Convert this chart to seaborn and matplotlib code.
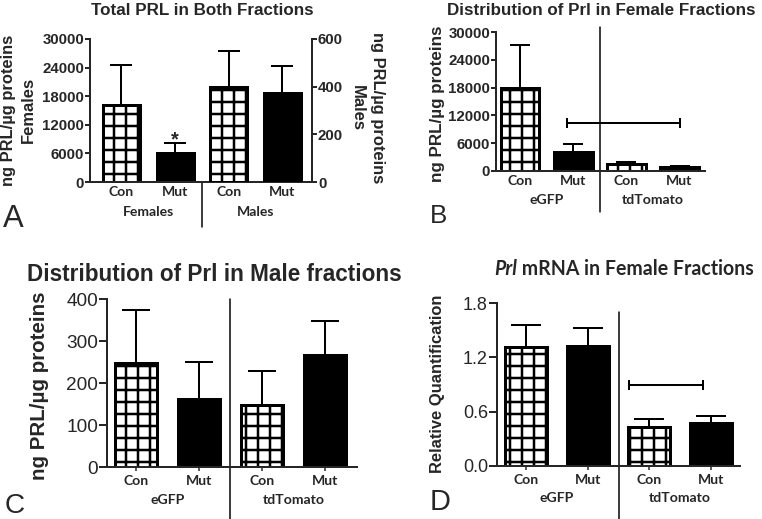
import numpy as np
import pandas as pd
import matplotlib
matplotlib.use("Agg")
import matplotlib.pyplot as plt
import seaborn as sns

# ---------------- data ----------------
# Panel A (Total PRL in both fractions)
a_fem_cats = ["F-Con", "F-Mut"]
a_fem_geno = ["Con", "Mut"]
a_fem_mean = [16100, 6100]
a_fem_err = [8400, 2100]
a_male_cats = ["M-Con", "M-Mut"]
a_male_geno = ["Con", "Mut"]
a_male_mean = [397, 375]
a_male_err = [151, 113]
a_order = ["F-Con", "F-Mut", "M-Con", "M-Mut"]
a_xticklabels = ["Con", "Mut", "Con", "Mut"]
a_groups = ["Females", "Males"]
a_left_ticks = [0, 6000, 12000, 18000, 24000, 30000]
a_right_ticks = [0, 200, 400, 600]

# Panel B (Distribution of Prl in female fractions)
b_cats = ["eGFP-Con", "eGFP-Mut", "tdT-Con", "tdT-Mut"]
b_geno = ["Con", "Mut", "Con", "Mut"]
b_mean = [17900, 4200, 1500, 950]
b_err = [9300, 1600, 500, 200]
b_ticks = [0, 6000, 12000, 18000, 24000, 30000]

# Panel C (Distribution of Prl in male fractions)
c_cats = ["eGFP-Con", "eGFP-Mut", "tdT-Con", "tdT-Mut"]
c_geno = ["Con", "Mut", "Con", "Mut"]
c_mean = [248, 162, 148, 266]
c_err = [127, 88, 80, 81]
c_ticks = [0, 100, 200, 300, 400]

# Panel D (Prl mRNA in female fractions)
d_cats = ["eGFP-Con", "eGFP-Mut", "tdT-Con", "tdT-Mut"]
d_geno = ["Con", "Mut", "Con", "Mut"]
d_mean = [1.315, 1.32, 0.435, 0.472]
d_err = [0.237, 0.203, 0.082, 0.081]
d_ticks = [0.0, 0.6, 1.2, 1.8]

frac_xticklabels = ["Con", "Mut", "Con", "Mut"]
frac_groups = ["eGFP", "tdTomato"]

# ---------------- style ----------------
sns.set_style("ticks")
plt.rcParams["font.family"] = ["Liberation Sans", "DejaVu Sans"]
plt.rcParams["hatch.linewidth"] = 2.5
plt.rcParams["hatch.color"] = "black"

W, H = 762, 519
fig = plt.figure(figsize=(W / 72, H / 72), dpi=72)
CAL = ["Lato", "DejaVu Sans"]
XFS = 14


def add_ax(l, r, t, b):
    return fig.add_axes([l / W, 1 - b / H, (r - l) / W, (b - t) / H])


def fx(x):
    return x / W


def fy(y):
    return 1 - y / H


def draw_bars(ax, cats, genos, means, errs, order, width, capsize):
    df = pd.DataFrame({"cat": cats, "geno": genos, "val": means})
    n0 = len(ax.patches)
    sns.barplot(data=df, x="cat", y="val", hue="geno", order=order,
                hue_order=["Con", "Mut"],
                palette={"Con": "white", "Mut": "black"}, dodge=False,
                width=width, edgecolor="black", linewidth=3, saturation=1,
                legend=False, errorbar=None, ax=ax)
    for p in ax.patches[n0:]:
        if p.get_facecolor()[0] > 0.5:
            p.set_hatch("+")
    pos = [order.index(c) for c in cats]
    ax.errorbar(pos, means, yerr=[np.zeros(len(errs)), errs], fmt="none",
                ecolor="black", elinewidth=2, capsize=capsize, capthick=2,
                zorder=0.5)


def style_axis(ax):
    for s in ["top", "right"]:
        ax.spines[s].set_visible(False)
    for s in ["left", "bottom"]:
        ax.spines[s].set_linewidth(2)
    ax.set_xlabel("")
    ax.set_ylabel("")


def yfrac(top, bottom, ypx):
    return (bottom - ypx) / (bottom - top)


def group_labels(ax, top, bottom, ypx, groups):
    xt = ax.get_xaxis_transform()
    for i, g in enumerate(groups):
        ax.text(2 * i + 0.5, yfrac(top, bottom, ypx), g, transform=xt,
                ha="center", va="center", fontfamily=CAL, fontweight="bold",
                fontsize=XFS)


def divider(ax, top, bottom, y0, y1):
    ax.plot([1.5, 1.5], [yfrac(top, bottom, y0), yfrac(top, bottom, y1)],
            transform=ax.get_xaxis_transform(), color="black", lw=1.5,
            clip_on=False)


# ================= Panel A =================
A_T, A_B = 39, 182
axA = add_ax(90, 312, A_T, A_B)
draw_bars(axA, a_fem_cats, a_fem_geno, a_fem_mean, a_fem_err, a_order, 0.69, 11)
axA2 = axA.twinx()
draw_bars(axA2, a_male_cats, a_male_geno, a_male_mean, a_male_err, a_order, 0.69, 11)
style_axis(axA)
axA2.set_ylabel("")
for s in ["top", "left", "bottom"]:
    axA2.spines[s].set_visible(False)
axA2.spines["right"].set_linewidth(2)
axA.set_ylim(0, 30000)
axA2.set_ylim(0, 600)
axA.set_xlim(-0.587, 3.55)
axA.set_yticks(a_left_ticks, labels=[str(t) for t in a_left_ticks],
               fontweight="bold", fontsize=15)
axA2.set_yticks(a_right_ticks, labels=[str(t) for t in a_right_ticks],
                fontweight="bold", fontsize=15)
axA.tick_params(axis="y", length=5, width=2, pad=1)
axA2.tick_params(axis="y", length=5, width=2, pad=1)
axA.set_xticks(range(len(a_order)), labels=a_xticklabels, fontfamily=CAL,
               fontweight="bold", fontsize=XFS)
axA.tick_params(axis="x", length=0, pad=4)
group_labels(axA, A_T, A_B, 212, a_groups)
divider(axA, A_T, A_B, 182, 227)
axA2.annotate("*", xy=(1, (a_fem_mean[1] + a_fem_err[1]) / 30000 * 600),
              xytext=(0, -2), textcoords="offset points", ha="center",
              va="baseline", fontsize=20, fontweight="bold")
fig.text(fx(3), fy(227), "A", fontsize=31, ha="left", va="baseline")
fig.text(fx(202), fy(15), "Total PRL in Both Fractions", fontsize=17,
         fontweight="bold", ha="center", va="baseline")
fig.text(fx(18), fy(110), "ng PRL/\u00b5g proteins\nFemales", rotation=90,
         fontsize=16.5, fontweight="bold", ha="center", va="center",
         multialignment="center", linespacing=1.4)
fig.text(fx(367.5), fy(108), "ng PRL/\u00b5g proteins\nMales", rotation=270,
         fontsize=16.5, fontweight="bold", ha="center", va="center",
         multialignment="center", linespacing=1.4)

# ================= Panel B =================
B_T, B_B = 32, 171
axB = add_ax(496, 705, B_T, B_B)
draw_bars(axB, b_cats, b_geno, b_mean, b_err, b_cats, 0.72, 10)
style_axis(axB)
axB.set_ylim(0, 30000)
axB.set_xlim(-0.46, 3.48)
axB.set_yticks(b_ticks, labels=[str(t) for t in b_ticks], fontweight="bold",
               fontsize=15)
axB.tick_params(axis="y", length=5, width=2, pad=1)
axB.set_xticks(range(4), labels=frac_xticklabels, fontfamily=CAL,
               fontweight="bold", fontsize=XFS)
axB.tick_params(axis="x", length=0, pad=4)
group_labels(axB, B_T, B_B, 200, frac_groups)
divider(axB, B_T, B_B, 27, 212)
axB.plot([0.87, 3.0], [10300, 10300], color="black", lw=2, marker="|",
         ms=10, mew=2)
fig.text(fx(430), fy(223), "B", fontsize=26, ha="left", va="baseline")
fig.text(fx(601), fy(15), "Distribution of Prl in Female Fractions",
         fontsize=17, fontweight="bold", ha="center", va="baseline")
fig.text(fx(437), fy(103.5), "ng PRL/\u00b5g proteins", rotation=90,
         fontsize=17, fontweight="bold", ha="center", va="center")

# ================= Panel C =================
C_T, C_B = 299, 467
axC = add_ax(107, 357, C_T, C_B)
draw_bars(axC, c_cats, c_geno, c_mean, c_err, c_cats, 0.67, 14)
style_axis(axC)
axC.set_ylim(0, 400)
axC.set_xlim(-0.46, 3.51)
axC.set_yticks(c_ticks, labels=[str(t) for t in c_ticks], fontsize=19)
axC.tick_params(axis="y", length=8, width=2, pad=1)
axC.set_xticks(range(4), labels=frac_xticklabels, fontfamily=CAL,
               fontweight="bold", fontsize=XFS)
axC.tick_params(axis="x", length=4, width=1.5, pad=4)
group_labels(axC, C_T, C_B, 500, frac_groups)
divider(axC, C_T, C_B, 299, 519)
fig.text(fx(5), fy(513), "C", fontsize=28, ha="left", va="baseline")
fig.text(fx(27), fy(281), "Distribution of Prl in Male fractions",
         fontsize=22.5, fontweight="bold", ha="left", va="baseline")
fig.text(fx(40), fy(386), "ng PRL/\u00b5g proteins", rotation=90,
         fontsize=20.5, fontweight="bold", ha="center", va="center")

# ================= Panel D =================
D_T, D_B = 303, 466
axD = add_ax(497, 740, D_T, D_B)
draw_bars(axD, d_cats, d_geno, d_mean, d_err, d_cats, 0.68, 15)
style_axis(axD)
axD.set_ylim(0, 1.8)
axD.set_xlim(-0.47, 3.47)
axD.set_yticks(d_ticks, labels=[f"{t:.1f}" for t in d_ticks], fontsize=18)
axD.tick_params(axis="y", length=8, width=2, pad=1)
axD.set_xticks(range(4), labels=frac_xticklabels, fontfamily=CAL,
               fontweight="bold", fontsize=XFS)
axD.tick_params(axis="x", length=4, width=1.5, pad=4)
group_labels(axD, D_T, D_B, 498, frac_groups)
divider(axD, D_T, D_B, 312, 519)
axD.plot([1.676, 2.87], [0.89, 0.89], color="black", lw=2, marker="|",
         ms=10, mew=2)
fig.text(fx(430), fy(510), "D", fontsize=29, ha="left", va="baseline")
t_prl = fig.text(fx(494), fy(275), "Prl", fontsize=19.5, fontfamily=CAL,
                 fontweight="bold", fontstyle="italic", ha="left",
                 va="baseline")
axD.annotate(" mRNA in Female Fractions", xy=(1, 0), xycoords=t_prl,
             fontsize=19.5, fontfamily=CAL, fontweight="bold", ha="left",
             va="bottom", annotation_clip=False)
fig.text(fx(437), fy(384), "Relative Quantification", rotation=90,
         fontsize=16.5, fontweight="bold", ha="center", va="center")

fig.savefig("out.png", dpi=72, facecolor="white")
